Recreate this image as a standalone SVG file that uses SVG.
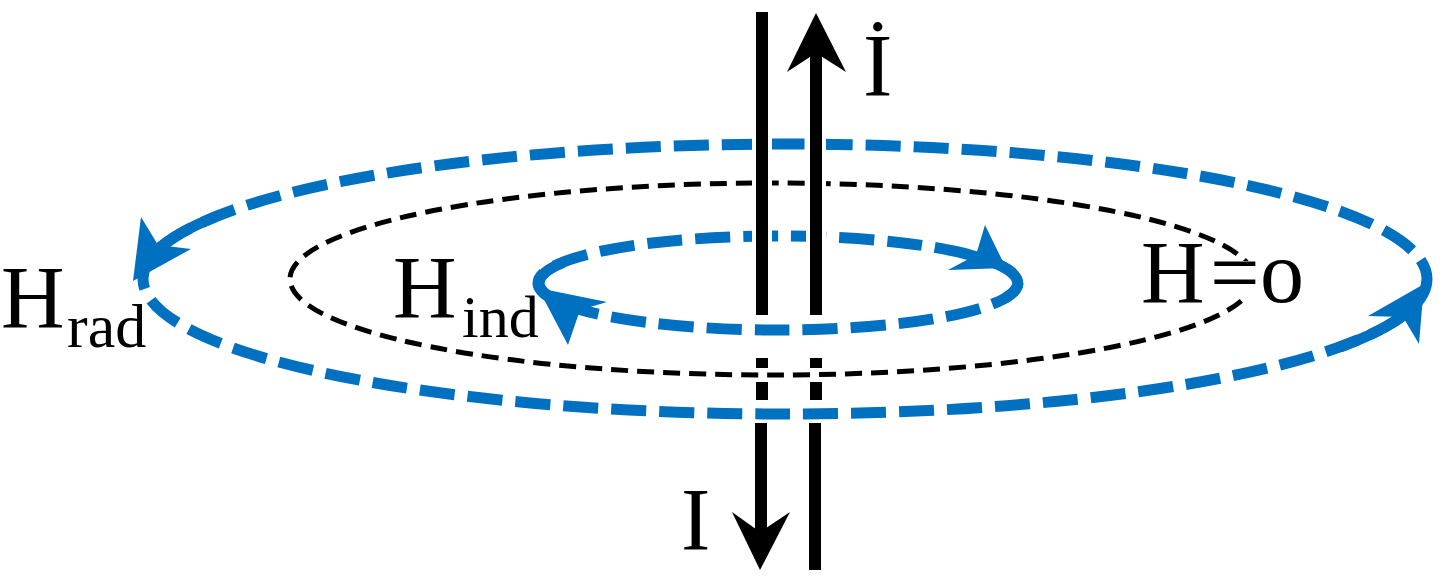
<svg xmlns="http://www.w3.org/2000/svg" width="1452" height="577" viewBox="0 0 1452 577">
<style>
.lbl{font-family:"Liberation Serif","Times New Roman",serif;fill:#000}
.blue{fill:none;stroke:#0070C0;stroke-width:11;stroke-dasharray:35 13}
.bsolid{fill:none;stroke:#0070C0;stroke-width:11}
.blk{fill:none;stroke:#000;stroke-width:5;stroke-dasharray:17 9}
.wire{fill:none;stroke:#000;stroke-width:12}
.halo{fill:none;stroke:#fff;stroke-width:20}
.head-b{fill:#0070C0}
.head-k{fill:#000}
</style>
<rect width="1452" height="577" fill="#fff"/>
<g id="connectors">
  <g id="field-loops">
    <ellipse id="outer-loop" class="blue" cx="785" cy="279" rx="642" ry="135"/>
    <ellipse id="zero-loop" class="blk" cx="772" cy="279" rx="482" ry="96"/>
    <ellipse id="inner-loop" class="blue" cx="778" cy="283" rx="240" ry="47"/>
    <path class="bsolid" d="M215,217 A642,135 0 0 0 157,250"/>
    <polygon class="head-b" points="133,281 141,217 158,245 191,249"/>
    <path class="bsolid" d="M1340,347 A642,135 0 0 0 1404,315"/>
    <polygon class="head-b" points="1424,284 1419,344 1403,317 1368,316"/>
    <path class="bsolid" stroke-linecap="round" d="M970,255 A240,47 0 0 1 1007,297"/>
    <polygon class="head-b" points="1006,268 985,225 976,255 948,270"/>
    <path class="bsolid" stroke-linecap="round" d="M590,312 A240,47 0 0 1 562,263"/>
    <polygon class="head-b" points="538,288 607,302 580,310 568,345"/>
  </g>
  <g id="wires">
    <path class="halo" d="M762,12 V315 M816,50 V315"/>
    <path class="wire" d="M762,12 V315 M762,358 V368 M762,382 V400 M761,423 V535"/>
    <path class="wire" d="M816,50 V315 M816,358 V368 M816,382 V400 M815,423 V570"/>
    <polygon class="head-k" points="816,13 846,72 816,53 787,72"/>
    <polygon class="head-k" points="760,570 790,512 760,532 732,512"/>
  </g>
</g>
<g id="label-idot"><text class="lbl" x="863" y="95" font-size="88">İ</text></g>
<g id="label-I"><text class="lbl" x="681" y="549" font-size="88">I</text></g>
<g id="label-Hrad"><text class="lbl" font-size="88"><tspan x="1" y="327">H</tspan><tspan x="67" y="347" font-size="62">rad</tspan></text></g>
<g id="label-Hind"><text class="lbl" font-size="88"><tspan x="393" y="317">H</tspan><tspan x="462" y="337" font-size="60">ind</tspan></text></g>
<g id="label-H0">
  <rect x="1204" y="261" width="56" height="36" fill="#fff"/>
  <text class="lbl" font-size="88" y="302"><tspan x="1141">H</tspan><tspan x="1210">=</tspan><tspan x="1260">o</tspan></text>
</g>
</svg>
